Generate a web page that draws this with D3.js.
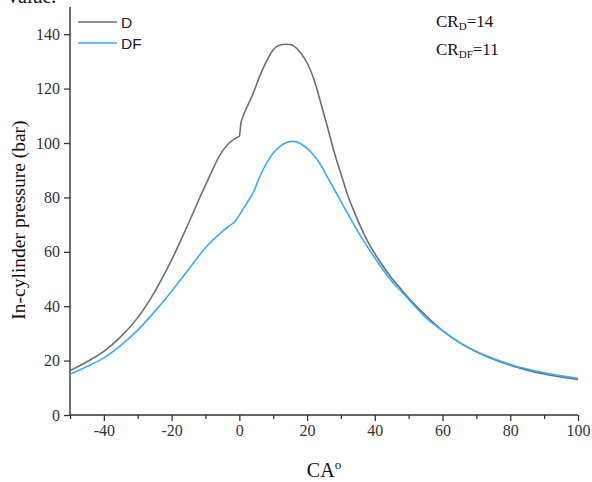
<!DOCTYPE html>
<html>
<head>
<meta charset="utf-8">
<script src="https://cdn.jsdelivr.net/npm/d3@7"></script>
<style>
  html, body { margin: 0; padding: 0; background: #fff; }
  svg { display: block; }
</style>
</head>
<body>
<svg id="chart" width="592" height="482"></svg>
<script>
// ---- data ----
const crankAngle = [-50,-45,-40,-35,-30,-25,-20,-15,-10,-5,-3,-1,0,0.5,1,2,4,6,8,10,12,14,15,16,18,20,22,24,26,28,30,32,34,36,38,40,42,45,48,50,55,60,65,70,75,80,85,90,95,100];
const pressureD  = [16.3,19.6,23.4,28.8,35.8,45.3,57,70.5,84.5,97,100,101.8,102.5,107.5,109.5,112.5,118,124.5,130,134.3,136,136.3,136.2,135.7,133.3,129.5,123.5,115,106,96.7,88.7,80.8,74.5,68.7,63.6,59.3,55.5,50.3,45.9,43,36.6,31,26.6,23.2,20.5,18.3,16.5,15.1,14,13.1];
const pressureDF = [15,17.8,21,25.6,31.2,38,45.5,53.5,61.5,67.5,69.5,71.5,73.5,74.5,75.5,77.5,81.5,87.5,92.5,96.3,98.8,100.2,100.5,100.6,99.8,98,95.5,92,87.5,83,78.5,74,69.6,65.4,61.5,57.8,54.2,49.2,45.2,42.5,35.9,31,26.7,23.4,20.8,18.6,16.9,15.5,14.4,13.5];
const seriesNames = ["D", "DF"];
const seriesColors = ["#6e6e6e", "#3aabf7"];
const xMajorTicks = [-40,-20,0,20,40,60,80,100];
const xMinorTicks = [-50,-30,-10,10,30,50,70,90];
const yTicks = [0,20,40,60,80,100,120,140];
const xDomain = [-50, 100];
const yDomain = [0, 150];

// ---- layout ----
const svg = d3.select("#chart");
const mLeft = 70, mRight = 578, mTop = 7, mBottom = 415;
const x = d3.scaleLinear().domain(xDomain).range([mLeft, mRight]);
const y = d3.scaleLinear().domain(yDomain).range([mBottom, mTop]);

const serif = "'Liberation Serif', 'Times New Roman', serif";
const sans = "'Liberation Sans', Arial, sans-serif";
const axisColor = "#333";

// partial caption cut off at top (as in the reference)
svg.append("text").attr("x", 8).attr("y", 3)
  .attr("font-family", serif).attr("font-size", 20).attr("fill", "#111")
  .text("value.");

// x axis (major)
const gx = svg.append("g").attr("transform", `translate(0,${mBottom})`);
gx.call(d3.axisBottom(x).tickValues(xMajorTicks).tickSize(6).tickPadding(4)
  .tickFormat(d => String(d)));
gx.selectAll(".tick text").attr("font-family", serif).attr("font-size", 16).attr("fill", "#333");
// x axis (minor)
const gxm = svg.append("g").attr("transform", `translate(0,${mBottom})`);
gxm.call(d3.axisBottom(x).tickValues(xMinorTicks).tickSize(4).tickFormat(() => ""));
gxm.select(".domain").remove();
[gx, gxm].forEach(g => g.selectAll(".tick line").attr("stroke", axisColor).attr("stroke-width", 1.3));
gx.select(".domain").attr("stroke", axisColor).attr("stroke-width", 1.4)
  .attr("d", `M${mLeft},0H${mRight}`);

// y axis
const gy = svg.append("g").attr("transform", `translate(${mLeft},0)`);
gy.call(d3.axisLeft(y).tickValues(yTicks).tickSize(6).tickPadding(4).tickFormat(d => String(d)));
gy.select(".domain").attr("stroke", axisColor).attr("stroke-width", 1.4)
  .attr("d", `M0,${mBottom}V${mTop}`);
gy.selectAll(".tick line").attr("stroke", axisColor).attr("stroke-width", 1.3);
gy.selectAll(".tick text").attr("font-family", serif).attr("font-size", 16).attr("fill", "#333");

// lines
const seriesData = [pressureD, pressureDF];
const line = d3.line().curve(d3.curveMonotoneX);
seriesData.forEach((vals, i) => {
  const pts = crankAngle.map((c, j) => [x(c), y(vals[j])]);
  svg.append("path").attr("d", line(pts)).attr("fill", "none")
    .attr("stroke", seriesColors[i]).attr("stroke-width", 1.6);
});

// legend
seriesNames.forEach((name, i) => {
  const ly = 22 + i * 21;
  svg.append("line").attr("x1", 78).attr("x2", 117).attr("y1", ly).attr("y2", ly)
    .attr("stroke", seriesColors[i]).attr("stroke-width", 1.6);
  svg.append("text").attr("x", 121).attr("y", ly + 5.5)
    .attr("font-family", sans).attr("font-size", 15.5).attr("fill", "#222").text(name);
});

// annotations
const ann = [["D", "=14", 27], ["DF", "=11", 55]];
ann.forEach(([sub, val, by]) => {
  const t = svg.append("text").attr("x", 436).attr("y", by)
    .attr("font-family", serif).attr("font-size", 17).attr("fill", "#111");
  t.append("tspan").text("CR");
  t.append("tspan").attr("font-size", 11).attr("dy", 3).text(sub);
  t.append("tspan").attr("dy", -3).text(val);
});

// axis titles
const xt = svg.append("text").attr("x", 324).attr("y", 477).attr("text-anchor", "middle")
  .attr("font-family", serif).attr("font-size", 20).attr("fill", "#111");
xt.append("tspan").text("CA");
xt.append("tspan").attr("font-size", 13).attr("dy", -8).text("o");

svg.append("text").attr("transform", "translate(25,220) rotate(-90)")
  .attr("text-anchor", "middle").attr("font-family", serif).attr("font-size", 19.5)
  .attr("fill", "#111").text("In-cylinder pressure (bar)");
</script>
</body>
</html>
